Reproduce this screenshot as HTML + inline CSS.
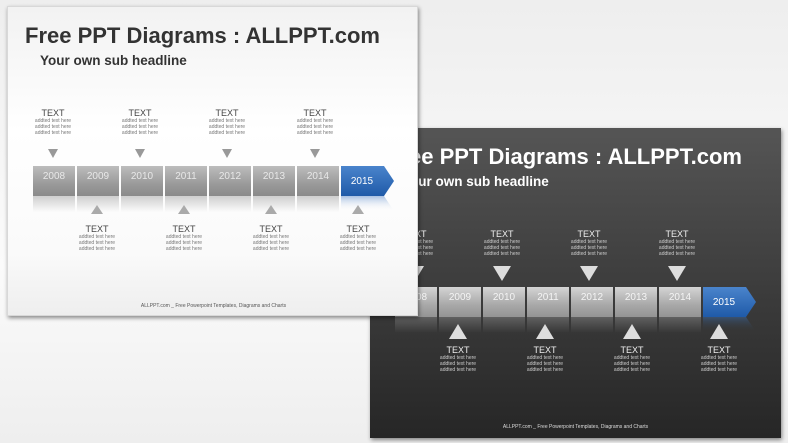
<!DOCTYPE html>
<html><head><meta charset="utf-8"><style>
*{margin:0;padding:0;box-sizing:border-box}
body{width:788px;height:443px;overflow:hidden;position:relative;font-family:"Liberation Sans",sans-serif;background:linear-gradient(#eeeeee,#fbfbfb 60%,#eeeeee)}
.s{position:absolute;width:411px;height:310px;overflow:hidden;box-shadow:1px 2px 4px rgba(0,0,0,.45)}
.l{left:7px;top:6px;background:linear-gradient(#f2f2f2,#ffffff 40%,#fafafa 80%,#eeeeee);z-index:2;border:1px solid #d8d8d8}
.d{left:370px;top:128px;background:linear-gradient(#555555,#3d3d3d 50%,#262626);z-index:1}
.a{position:absolute}
.t{left:17px;top:16px;font-size:22px;font-weight:bold;color:#333;white-space:nowrap}
.st{left:32px;top:46px;font-size:13.5px;font-weight:bold;color:#333;white-space:nowrap}
.d .t,.d .st{color:#fff}
.b{top:159px;width:42px;height:30px;background:linear-gradient(#bdbdbd,#9a9a9a 60%,#8a8a8a);color:#e8e8e8;font-size:10px;text-align:center;line-height:22px}
.d .b{background:linear-gradient(#d4d4d4,#a8a8a8 60%,#949494);color:#f4f4f4}
.r{top:189px;width:42px;height:16px;background:linear-gradient(rgba(150,150,150,.45),rgba(150,150,150,0))}
.d .r{background:linear-gradient(rgba(170,170,170,.35),rgba(120,120,120,0))}
.bl{top:159px;left:333px;width:54px;height:30px}
.lab{width:60px;text-align:center;color:#444}
.lab b{display:block;font-size:9px;font-weight:normal;color:#444;line-height:10px}
.lab i{display:block;font-style:normal;font-size:5px;line-height:6px;color:#777}
.d .lab b{color:#eee}.d .lab i{color:#ccc}
.dn{width:0;height:0;border-left:5px solid transparent;border-right:5px solid transparent;border-top:9px solid #999}
.up{width:0;height:0;border-left:6px solid transparent;border-right:6px solid transparent;border-bottom:9px solid #aaa}
.d .dn{border-left-width:9px;border-right-width:9px;border-top:15px solid #ddd}
.d .up{border-left-width:9px;border-right-width:9px;border-bottom:15px solid #ddd}
.f{left:0;width:411px;top:296px;text-align:center;font-size:5px;color:#555}
.d .f{color:#ddd}
</style></head><body>

<div class="s l">
<div class="a t">Free PPT Diagrams : ALLPPT.com</div>
<div class="a st">Your own sub headline</div>
<div class="a lab" style="left:15px;top:101px"><b>TEXT</b><i>addted text here</i><i>addted text here</i><i>addted text here</i></div>
<div class="a lab" style="left:102px;top:101px"><b>TEXT</b><i>addted text here</i><i>addted text here</i><i>addted text here</i></div>
<div class="a lab" style="left:189px;top:101px"><b>TEXT</b><i>addted text here</i><i>addted text here</i><i>addted text here</i></div>
<div class="a lab" style="left:277px;top:101px"><b>TEXT</b><i>addted text here</i><i>addted text here</i><i>addted text here</i></div>
<div class="a dn" style="left:40px;top:142px"></div>
<div class="a dn" style="left:127px;top:142px"></div>
<div class="a dn" style="left:214px;top:142px"></div>
<div class="a dn" style="left:302px;top:142px"></div>
<div class="a b" style="left:25px">2008</div><div class="a b" style="left:69px">2009</div><div class="a b" style="left:113px">2010</div><div class="a b" style="left:157px">2011</div><div class="a b" style="left:201px">2012</div><div class="a b" style="left:245px">2013</div><div class="a b" style="left:289px">2014</div>
<div class="a r" style="left:25px"></div><div class="a r" style="left:69px"></div><div class="a r" style="left:113px"></div><div class="a r" style="left:157px"></div><div class="a r" style="left:201px"></div><div class="a r" style="left:245px"></div><div class="a r" style="left:289px"></div>
<svg class="a bl" viewBox="0 0 54 46" style="height:46px"><defs><linearGradient id="g1" x1="0" y1="0" x2="0" y2="1"><stop offset="0" stop-color="#4a84cc"/><stop offset="1" stop-color="#1f5aa8"/></linearGradient><linearGradient id="g2" x1="0" y1="0" x2="0" y2="1"><stop offset="0" stop-color="#6f98d0" stop-opacity=".6"/><stop offset="1" stop-color="#fff" stop-opacity="0"/></linearGradient></defs><path d="M0 0H43L53 15 43 30H0Z" fill="url(#g1)"/><path d="M0 30H43L53 45H0Z" fill="url(#g2)"/><text x="21" y="18" font-size="10" fill="#fff" text-anchor="middle" font-family="Liberation Sans">2015</text></svg>
<div class="a up" style="left:83px;top:198px"></div>
<div class="a up" style="left:170px;top:198px"></div>
<div class="a up" style="left:257px;top:198px"></div>
<div class="a up" style="left:344px;top:198px"></div>
<div class="a lab" style="left:59px;top:217px"><b>TEXT</b><i>addted text here</i><i>addted text here</i><i>addted text here</i></div>
<div class="a lab" style="left:146px;top:217px"><b>TEXT</b><i>addted text here</i><i>addted text here</i><i>addted text here</i></div>
<div class="a lab" style="left:233px;top:217px"><b>TEXT</b><i>addted text here</i><i>addted text here</i><i>addted text here</i></div>
<div class="a lab" style="left:320px;top:217px"><b>TEXT</b><i>addted text here</i><i>addted text here</i><i>addted text here</i></div>
<div class="a f">ALLPPT.com _ Free Powerpoint Templates, Diagrams and Charts</div>
</div>

<div class="s d">
<div class="a t">Free PPT Diagrams : ALLPPT.com</div>
<div class="a st">Your own sub headline</div>
<div class="a lab" style="left:15px;top:101px"><b>TEXT</b><i>addted text here</i><i>addted text here</i><i>addted text here</i></div>
<div class="a lab" style="left:102px;top:101px"><b>TEXT</b><i>addted text here</i><i>addted text here</i><i>addted text here</i></div>
<div class="a lab" style="left:189px;top:101px"><b>TEXT</b><i>addted text here</i><i>addted text here</i><i>addted text here</i></div>
<div class="a lab" style="left:277px;top:101px"><b>TEXT</b><i>addted text here</i><i>addted text here</i><i>addted text here</i></div>
<div class="a dn" style="left:36px;top:138px"></div>
<div class="a dn" style="left:123px;top:138px"></div>
<div class="a dn" style="left:210px;top:138px"></div>
<div class="a dn" style="left:298px;top:138px"></div>
<div class="a b" style="left:25px">2008</div><div class="a b" style="left:69px">2009</div><div class="a b" style="left:113px">2010</div><div class="a b" style="left:157px">2011</div><div class="a b" style="left:201px">2012</div><div class="a b" style="left:245px">2013</div><div class="a b" style="left:289px">2014</div>
<div class="a r" style="left:25px"></div><div class="a r" style="left:69px"></div><div class="a r" style="left:113px"></div><div class="a r" style="left:157px"></div><div class="a r" style="left:201px"></div><div class="a r" style="left:245px"></div><div class="a r" style="left:289px"></div>
<svg class="a bl" viewBox="0 0 54 46" style="height:46px"><defs><linearGradient id="g3" x1="0" y1="0" x2="0" y2="1"><stop offset="0" stop-color="#4a84cc"/><stop offset="1" stop-color="#1f5aa8"/></linearGradient><linearGradient id="g4" x1="0" y1="0" x2="0" y2="1"><stop offset="0" stop-color="#3a6aa8" stop-opacity=".5"/><stop offset="1" stop-color="#333" stop-opacity="0"/></linearGradient></defs><path d="M0 0H43L53 15 43 30H0Z" fill="url(#g3)"/><path d="M0 30H43L53 45H0Z" fill="url(#g4)"/><text x="21" y="18" font-size="10" fill="#fff" text-anchor="middle" font-family="Liberation Sans">2015</text></svg>
<div class="a up" style="left:79px;top:196px"></div>
<div class="a up" style="left:166px;top:196px"></div>
<div class="a up" style="left:253px;top:196px"></div>
<div class="a up" style="left:340px;top:196px"></div>
<div class="a lab" style="left:58px;top:217px"><b>TEXT</b><i>addted text here</i><i>addted text here</i><i>addted text here</i></div>
<div class="a lab" style="left:145px;top:217px"><b>TEXT</b><i>addted text here</i><i>addted text here</i><i>addted text here</i></div>
<div class="a lab" style="left:232px;top:217px"><b>TEXT</b><i>addted text here</i><i>addted text here</i><i>addted text here</i></div>
<div class="a lab" style="left:319px;top:217px"><b>TEXT</b><i>addted text here</i><i>addted text here</i><i>addted text here</i></div>
<div class="a f">ALLPPT.com _ Free Powerpoint Templates, Diagrams and Charts</div>
</div>
</body></html>
